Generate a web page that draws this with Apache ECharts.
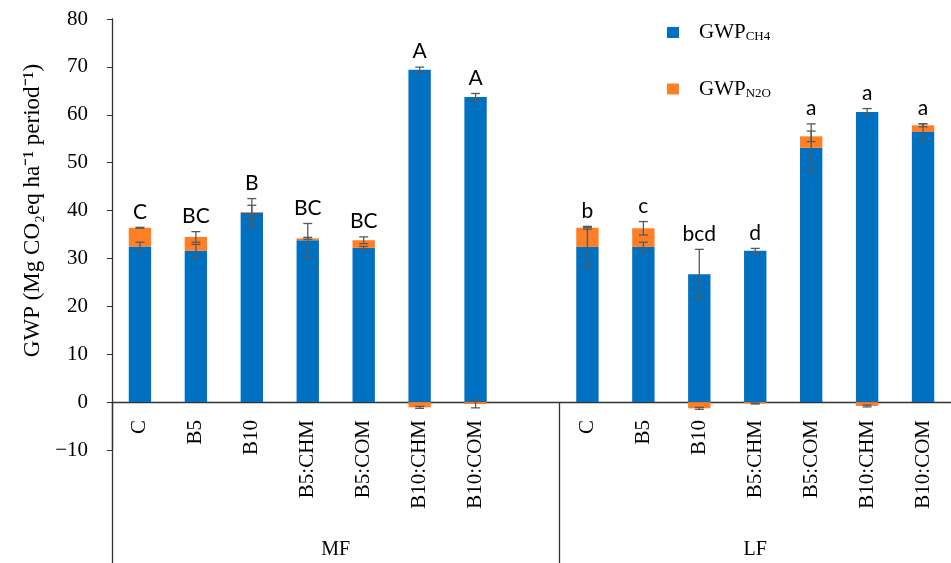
<!DOCTYPE html>
<html>
<head>
<meta charset="utf-8">
<script src="https://cdn.jsdelivr.net/npm/echarts@6/dist/echarts.min.js"></script>
<style>
  html, body { margin: 0; padding: 0; background: #fff; }
  #chart { width: 951px; height: 563px; }
</style>
</head>
<body>
<div id="chart"></div>
<script>
// categories (index 7 is the empty gap between MF and LF)
const categories = ["C", "B5", "B10", "B5:CHM", "B5:COM", "B10:CHM", "B10:COM", "",
  "C", "B5", "B10", "B5:CHM", "B5:COM", "B10:CHM", "B10:COM"];
const groups = ["MF", "LF"];

const ch4 = [32.5, 31.6, 39.5, 33.8, 32.2, 69.4, 63.7, null, 32.4, 32.4, 26.7, 31.6, 53.1, 60.6, 56.4];
const n2o = [3.9, 2.9, 0.2, 0.4, 1.6, -1.1, -0.4, null, 4.0, 3.9, -1.3, -0.3, 2.4, -0.8, 1.4];
const ch4Err = [0.9, 1.35, 3.0, 3.5, 0.3, 0.55, 0.75, null, 4.1, 1.0, 5.2, 0.5, 5.0, 0.7, 1.75];
const n2oErr = [0.1, 1.1, 1.4, 0.2, 0.7, 0.2, 0.8, null, 0.3, 1.4, 0.2, 0.1, 1.1, 0.2, 0.3];
const letters = ["C", "BC", "B", "BC", "BC", "A", "A", "", "b", "c", "bcd", "d", "a", "a", "a"];

const serif = "Liberation Serif";
const BLUE = "#0070C0";
const ORANGE = "#FF7F27";

// error bar items: [index, centre, err]
const errData = [];
categories.forEach((c, i) => {
  if (ch4[i] == null) return;
  errData.push([i, ch4[i], ch4Err[i]]);
  const top = n2o[i] >= 0 ? ch4[i] + n2o[i] : n2o[i];
  errData.push([i, top, n2oErr[i]]);
});

// letters sit above the highest mark of each bar
const letterData = [];
categories.forEach((c, i) => {
  if (ch4[i] == null) return;
  const total = ch4[i] + Math.max(n2o[i], 0);
  const top = Math.max(total, ch4[i] + ch4Err[i], n2o[i] >= 0 ? total + n2oErr[i] : 0);
  letterData.push([i, top, letters[i]]);
});

const chart = echarts.init(document.getElementById("chart"));

chart.setOption({
  animation: false,
  grid: { left: 112, right: 0, top: 19, bottom: 113 },
  legend: {
    orient: "vertical",
    left: 662,
    top: 17,
    itemWidth: 12,
    itemHeight: 11,
    itemGap: 35,
    icon: "rect",
    data: ["CH4", "N2O"],
    formatter: (name) => "{a|GWP}{b|" + name + "}",
    textStyle: {
      padding: [0, 0, 0, 15],
      rich: {
        a: { fontFamily: serif, fontSize: 21, color: "#000" },
        b: { fontFamily: serif, fontSize: 13, color: "#000", padding: [9, 0, 0, 0] },
      },
    },
  },
  xAxis: [
    {
      type: "category",
      data: categories,
      position: "bottom",
      offset: -48,
      axisLine: { onZero: false, lineStyle: { color: "#333", width: 1.3 } },
      axisTick: { show: false },
      axisLabel: {
        rotate: 90,
        interval: 0,
        margin: 18,
        fontFamily: serif,
        fontSize: 21,
        color: "#000",
      },
    },
    {
      type: "value",
      min: 0,
      max: 15,
      position: "bottom",
      offset: -48,
      axisLine: { show: false, onZero: false },
      splitLine: { show: false },
      axisTick: {
        show: true,
        inside: false,
        length: 162,
        customValues: [0, 8],
        lineStyle: { color: "#333", width: 1.3 },
      },
      axisLabel: {
        customValues: [4, 11.5],
        margin: 138,
        fontFamily: serif,
        fontSize: 20,
        color: "#000",
        formatter: (v) => (v < 8 ? groups[0] : groups[1]),
      },
    },
  ],
  yAxis: {
    type: "value",
    min: -10,
    max: 80,
    interval: 10,
    name: "GWP (Mg CO\u2082eq ha\u207B\u00B9 period\u207B\u00B9)",
    nameLocation: "middle",
    nameGap: 66,
    nameTextStyle: { fontFamily: serif, fontSize: 23, color: "#000", padding: [0, 0, 0, 48] },
    axisLine: { show: true, lineStyle: { color: "#333", width: 1.3 } },
    axisTick: { show: true, length: 5, lineStyle: { color: "#333" } },
    splitLine: { show: false },
    axisLabel: {
      margin: 24,
      fontFamily: serif,
      fontSize: 21,
      color: "#000",
      formatter: (v) => (v < 0 ? "\u2212" + -v : "" + v),
    },
  },
  series: [
    {
      name: "CH4",
      type: "bar",
      stack: "gwp",
      barWidth: "40%",
      data: ch4,
      itemStyle: { color: BLUE },
    },
    {
      name: "N2O",
      type: "bar",
      stack: "gwp",
      barWidth: "40%",
      data: n2o,
      itemStyle: { color: ORANGE },
    },
    {
      type: "custom",
      name: "err",
      data: errData,
      z: 5,
      renderItem: (params, api) => {
        const i = api.value(0);
        const c = api.value(1);
        const e = api.value(2);
        const hi = api.coord([i, c + e]);
        const lo = api.coord([i, c - e]);
        const hw = 4.5;
        const style = { stroke: "#595959", lineWidth: 1.3 };
        return {
          type: "group",
          children: [
            { type: "line", shape: { x1: hi[0], y1: hi[1], x2: lo[0], y2: lo[1] }, style },
            { type: "line", shape: { x1: hi[0] - hw, y1: hi[1], x2: hi[0] + hw, y2: hi[1] }, style },
            { type: "line", shape: { x1: lo[0] - hw, y1: lo[1], x2: lo[0] + hw, y2: lo[1] }, style },
          ],
        };
      },
    },
    {
      type: "custom",
      name: "letters",
      data: letterData,
      z: 6,
      renderItem: (params, api) => {
        const p = api.coord([api.value(0), api.value(1)]);
        return {
          type: "text",
          x: p[0],
          y: p[1] - 5,
          style: {
            text: letterData[params.dataIndex][2],
            fontFamily: "Lato",
            fontSize: 21,
            fill: "#000",
            align: "center",
            verticalAlign: "bottom",
          },
        };
      },
    },
  ],
});
</script>
</body>
</html>
